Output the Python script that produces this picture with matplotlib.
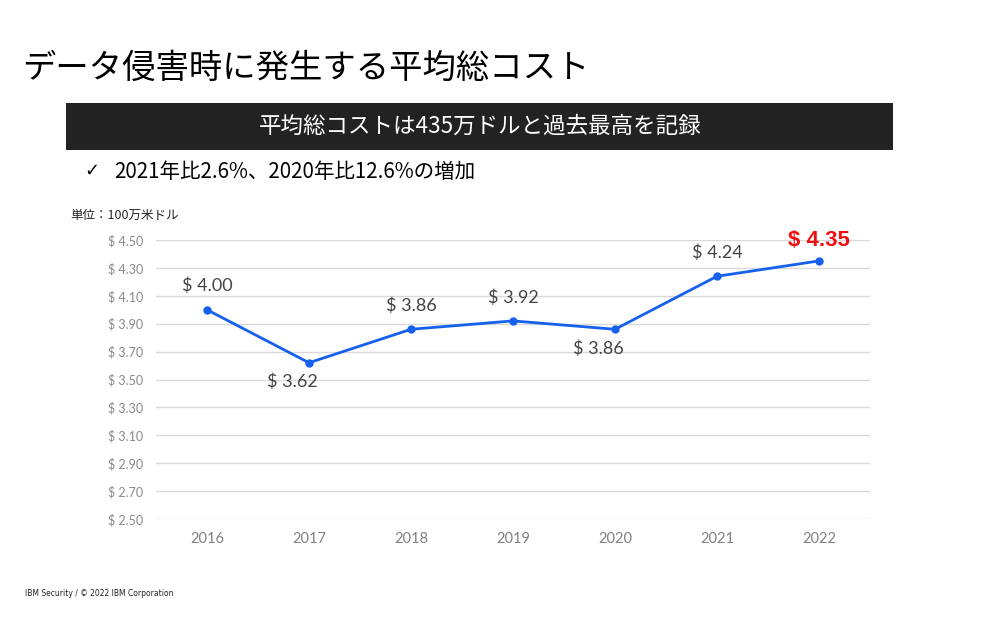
import matplotlib
matplotlib.use("Agg")
import matplotlib.pyplot as plt

years = ["2016", "2017", "2018", "2019", "2020", "2021", "2022"]
costs = [4.00, 3.62, 3.86, 3.92, 3.86, 4.24, 4.35]
yticks = [2.50, 2.70, 2.90, 3.10, 3.30, 3.50, 3.70, 3.90, 4.10, 4.30, 4.50]
# label placement: 'above' or 'below'
label_pos = ["above", "below", "above", "above", "below", "above", "above"]

title = "データ侵害時に発生する平均総コスト"
banner = "平均総コストは435万ドルと過去最高を記録"
bullet = "2021年比2.6%、2020年比12.6%の増加"
unit = "単位：100万米ドル"
footer = "IBM Security / © 2022 IBM Corporation"

plt.rcParams['font.family'] = ['Noto Sans CJK JP', 'DejaVu Sans']

fig = plt.figure(figsize=(10, 6.25), dpi=100)
fig.patch.set_facecolor("white")

ax = fig.add_axes([0.156, 1 - 519 / 625, 0.714, (519 - 240) / 625])
x = list(range(len(years)))
ax.plot(x, costs, color="#1660EE", lw=2.0, marker="o", ms=5, zorder=3)
ax.set_xlim(-0.5, len(years) - 0.5)
ax.set_ylim(2.5, 4.5)
ax.set_yticks(yticks)
ax.set_yticklabels([f"$ {v:.2f}" for v in yticks], fontsize=9, color="#8a8a8a",
                   family=['Lato', 'DejaVu Sans'])
ax.set_xticks(x)
ax.set_xticklabels(years, fontsize=10.5, color="#808080", family=['Lato', 'DejaVu Sans'])
ax.tick_params(axis="both", length=0)
ax.tick_params(axis="y", pad=9)
ax.tick_params(axis="x", pad=9.5)
ax.grid(axis="y", color="#d9d9d9", lw=1)
ax.set_axisbelow(True)
for s in ax.spines.values():
    s.set_visible(False)

for i, (v, pos) in enumerate(zip(costs, label_pos)):
    if i == len(costs) - 1:
        ax.annotate(f"$ {v:.2f}", (i, v), xytext=(0, 7), textcoords="offset points",
                    ha="center", va="bottom", fontsize=16, fontweight="bold",
                    color="#EE1111", family=['Liberation Sans', 'DejaVu Sans'])
    elif pos == "above":
        ax.annotate(f"$ {v:.2f}", (i, v), xytext=(0, 11), textcoords="offset points",
                    ha="center", va="bottom", fontsize=13, color="#444444",
                    family=['Lato', 'DejaVu Sans'])
    else:
        ax.annotate(f"$ {v:.2f}", (i, v), xytext=(-12, -8), textcoords="offset points",
                    ha="center", va="top", fontsize=13, color="#444444",
                    family=['Lato', 'DejaVu Sans'])

fig.text(0.022, 1 - 68 / 625, title, fontsize=24, color="black", va="center", ha="left")

fig.patches.append(matplotlib.patches.Rectangle((0.066, 1 - 150 / 625), 0.827, 47 / 625,
                                                transform=fig.transFigure,
                                                facecolor="#222222", edgecolor="none"))
fig.text(0.480, 1 - 126 / 625, banner, fontsize=16.2, color="white", ha="center", va="center")

fig.text(0.084, 1 - 171 / 625, "✓", fontsize=13, color="black", ha="left", va="center",
         family=['DejaVu Sans'])
fig.text(0.114, 1 - 172 / 625, bullet, fontsize=14.8, color="black", ha="left", va="center")

fig.text(0.07, 1 - 215 / 625, unit, fontsize=9, color="#222222", ha="left", va="center")
fig.text(0.025, 1 - 594 / 625, footer, fontsize=5.5, color="#222222", ha="left", va="center",
         family=['DejaVu Sans'])

fig.savefig("out.png", dpi=100, facecolor="white")
